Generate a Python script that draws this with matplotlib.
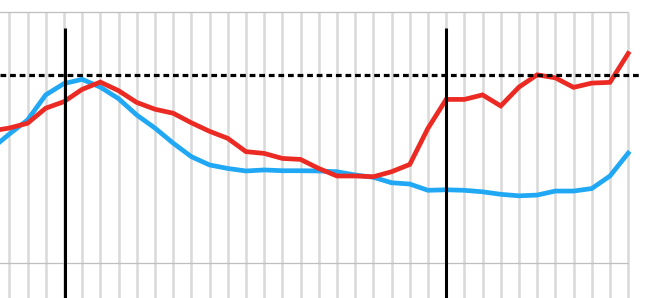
import numpy as np
import matplotlib
matplotlib.use("Agg")
import matplotlib.pyplot as plt

# --- data (0-100 scale) --------------------------------------------------
# first point sits just left of the visible area
periods = np.arange(-1, 35)

blue_values = [45.5, 51.5, 57.1, 67.1, 71.6, 73.3, 70.2, 65.6, 59.1, 53.9,
               47.9, 42.5, 39.2, 37.8, 36.8, 37.2, 36.9, 36.9, 36.8, 36.5,
               35.2, 34.3, 32.1, 31.6, 29.1, 29.3, 29.1, 28.5, 27.5, 26.9,
               27.2, 28.8, 28.8, 29.8, 34.8, 43.9]

red_values = [52.7, 53.9, 55.8, 61.8, 64.4, 69.3, 72.2, 68.8, 64.1, 61.4,
              59.8, 56.0, 52.6, 49.8, 44.5, 43.8, 41.8, 41.4, 37.8, 34.8,
              34.8, 34.5, 36.5, 39.4, 53.8, 65.3, 65.3, 67.1, 62.7, 70.2,
              75.1, 73.9, 70.1, 71.8, 72.1, 83.6]

target_level = 75
marker_periods = [3.08, 24]
grid_levels = [0, 100]

BLUE = '#21a8f4'
RED = '#ec2a24'

# --- figure ----------------------------------------------------------------
fig = plt.figure(figsize=(6.46, 2.98), dpi=100)
ax = fig.add_axes([0, 0, 1, 1])
ax.set_xlim(-0.511, 34.98)
ax.set_ylim(-13.8, 104.9)
ax.axis('off')

# grid: thick light verticals, thin horizontals
ax.vlines(periods[1:], -20, grid_levels[-1], color='#d9d9d9', lw=1.8, zorder=1)
ax.hlines(grid_levels, -1, periods[-1], color='#bfbfbf', lw=0.9, zorder=1)

ax.plot(periods, blue_values, color=BLUE, lw=3.4, solid_joinstyle='miter', zorder=3)
ax.plot(periods, red_values, color=RED, lw=3.4, solid_joinstyle='miter', zorder=4)

# target line
ax.hlines(target_level, -0.511, 34.65, color='black', lw=2.3,
          linestyles=(0, (1.8, 1.2)), zorder=5)

# event markers
ax.vlines(marker_periods, -20, 93.7, color='black', lw=2.2, zorder=6)

fig.savefig('out.png', dpi=100)
plt.close(fig)
